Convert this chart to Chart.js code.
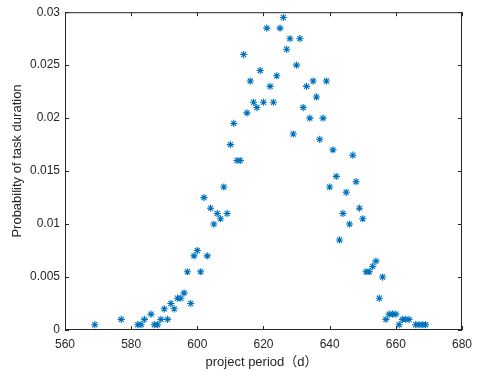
<!DOCTYPE html>
<html>
<head>
<meta charset="utf-8">
<script src="https://cdn.jsdelivr.net/npm/chart.js@4"></script>
<style>
html,body{margin:0;padding:0;background:#fff;}
canvas{display:block;}
</style>
</head>
<body>
<canvas id="c" width="479" height="371"></canvas>
<script>
const durations = [569,577,582,583,584,586,587,588,589,590,591,592,593,594,595,596,597,598,599,600,
  601,602,603,604,605,606,607,608,609,610,611,612,613,614,615,616,617,618,619,620,
  621,622,623,624,625,626,627,628,629,630,631,632,633,634,635,636,637,638,639,640,
  641,642,643,644,645,646,647,648,649,650,651,652,653,654,655,656,657,658,659,660,
  661,662,663,664,666,667,668,669];
const probabilities = [0.0005,0.001,0.0005,0.0005,0.001,0.0015,0.0005,0.0005,0.001,0.002,0.001,0.0025,0.002,0.003,0.003,0.0035,0.0055,0.0025,0.007,0.0075,
  0.0055,0.0125,0.007,0.0115,0.01,0.011,0.0105,0.0135,0.011,0.0175,0.0195,0.016,0.016,0.026,0.0205,0.0235,0.0215,0.021,0.0245,0.0215,
  0.0285,0.023,0.0215,0.024,0.0285,0.0295,0.0265,0.0275,0.0185,0.025,0.0275,0.021,0.023,0.02,0.0235,0.022,0.018,0.02,0.0235,0.0135,
  0.017,0.0145,0.0085,0.011,0.013,0.01,0.0165,0.014,0.0115,0.0105,0.0055,0.0055,0.006,0.0065,0.003,0.005,0.001,0.0015,0.0015,0.0015,
  0.0005,0.001,0.001,0.001,0.0005,0.0005,0.0005,0.0005];
const xTicks = [560,580,600,620,640,660,680];
const yTicks = [0,0.005,0.01,0.015,0.02,0.025,0.03];
const yTickLabels = ['0','0.005','0.01','0.015','0.02','0.025','0.03'];
const xTitle = 'project period（d）';
const yTitle = 'Probability of task duration';

const FONT = "'Liberation Sans', Arial, 'Noto Sans CJK SC', sans-serif";
const TXT = '#262626';

const boxPlugin = {
  id: 'box',
  afterDraw(chart) {
    const {ctx, chartArea: a, scales} = chart;
    ctx.save();
    ctx.strokeStyle = TXT;
    ctx.lineWidth = 1;
    ctx.strokeRect(a.left + 0.5, a.top + 0.5, a.right - a.left - 1, a.bottom - a.top - 1);
    const L = 4;
    ctx.beginPath();
    xTicks.forEach(v => {
      const px = Math.round(scales.x.getPixelForValue(v)) + 0.5;
      ctx.moveTo(px, a.bottom); ctx.lineTo(px, a.bottom - L);
      ctx.moveTo(px, a.top); ctx.lineTo(px, a.top + L);
    });
    yTicks.forEach(v => {
      const py = Math.round(scales.y.getPixelForValue(v)) + 0.5;
      ctx.moveTo(a.left, py); ctx.lineTo(a.left + L, py);
      ctx.moveTo(a.right, py); ctx.lineTo(a.right - L, py);
    });
    ctx.stroke();
    // titles
    ctx.fillStyle = TXT;
    ctx.font = '13px ' + FONT;
    ctx.textAlign = 'center';
    ctx.textBaseline = 'middle';
    ctx.fillText(xTitle, (a.left + a.right) / 2 - 2, 362);
    ctx.translate(17, 161);
    ctx.rotate(-Math.PI / 2);
    ctx.fillText(yTitle, 0, 0);
    ctx.restore();
  }
};

new Chart(document.getElementById('c'), {
  type: 'scatter',
  data: {
    datasets: [{
      data: durations.map((d, i) => ({x: d, y: probabilities[i]})),
      pointStyle: 'star',
      pointRadius: 3.6,
      pointBorderWidth: 1.1,
      borderColor: '#0072BD',
      backgroundColor: '#0072BD'
    }]
  },
  options: {
    responsive: false,
    animation: false,
    clip: false,
    layout: {padding: {top: 10, right: 9, left: 0, bottom: 0}},
    plugins: {legend: {display: false}, tooltip: {enabled: false}},
    scales: {
      x: {
        type: 'linear', min: 560, max: 680,
        afterBuildTicks: s => { s.ticks = xTicks.map(v => ({value: v})); },
        afterFit: s => { s.height = 41; },
        grid: {display: false, drawTicks: false},
        border: {display: false},
        ticks: {color: TXT, font: {family: FONT, size: 12}, padding: 7, maxRotation: 0,
          callback: v => String(v)}
      },
      y: {
        type: 'linear', min: 0, max: 0.03,
        afterBuildTicks: s => { s.ticks = yTicks.map(v => ({value: v})); },
        afterFit: s => { s.width = 65; },
        grid: {display: false, drawTicks: false},
        border: {display: false},
        ticks: {color: TXT, font: {family: FONT, size: 12}, padding: 5,
          callback: (v) => { const i = yTicks.findIndex(t => Math.abs(t - v) < 1e-9); return i >= 0 ? yTickLabels[i] : ''; }}
      }
    }
  },
  plugins: [boxPlugin]
});
</script>
</body>
</html>
